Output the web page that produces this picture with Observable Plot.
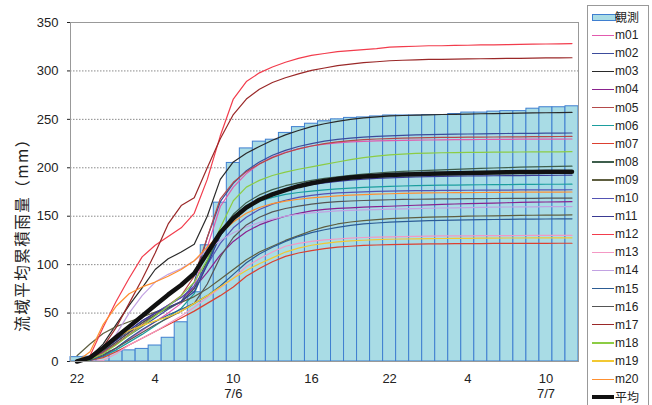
<!DOCTYPE html>
<html><head><meta charset="utf-8">
<script src="https://cdn.jsdelivr.net/npm/d3@7"></script>
<script src="https://cdn.jsdelivr.net/npm/@observablehq/plot@0.6"></script>
<style>
body{margin:0;background:#fff;font-family:"Liberation Sans","Noto Sans CJK JP",Arial,sans-serif;}
#wrap{position:relative;width:652px;height:405px;overflow:hidden;}
#legend{position:absolute;left:587px;top:5px;width:62px;height:430px;border:1px solid #999;background:#fff;box-sizing:border-box;}
.li{position:absolute;left:0;height:16px;line-height:16px;font-size:12px;color:#222;white-space:nowrap;}
.sw{position:absolute;left:4px;width:22px;}
.lt{position:absolute;left:27px;top:0;}
</style></head>
<body><div id="wrap"><div id="chart"></div><div id="legend"></div></div>
<script>
// hour of day for each hourly step (7/5 22:00 -> 7/7 12:00)
const hours = [22,23,0,1,2,3,4,5,6,7,8,9,10,11,12,13,14,15,16,17,18,19,20,21,22,23,0,1,2,3,4,5,6,7,8,9,10,11,12];
const tickIdx = [0,6,12,18,24,30,36];
const dateIdx = [12,36];
const dateText = ["7/6","7/7"];
const yTicks = [0,50,100,150,200,250,300,350];
const gridVals = [50,100,150,200,250,300];
const yLabel = "流域平均累積雨量（mm）";

// observed basin-average cumulative rainfall (mm)
const observed = [4.5,5,9,10.5,11.5,13,16.5,24.5,40.5,71.5,120,164,205,220,227,229,236,242,245.5,248,250,251.5,252,253,254,254,254,254.5,254.5,255.5,257,257,258,258.5,258.5,261,262.5,262.5,263.5];

const m01 = [0,1,6,14,23,32,41,50,60,78,118,160,180,194,204,211,216,219.5,222.5,224.5,225.8,226.7,227.3,227.7,228,228.3,228.5,228.7,228.9,229,229.1,229.2,229.3,229.4,229.5,229.5,229.6,229.6,229.7];
const m02 = [0,2,9,18,27,36,45,54,62,82,128,165,184,197,206,213,218,222,225,227.5,229.3,230.6,231.6,232.4,233,233.5,233.9,234.2,234.5,234.7,234.9,235.1,235.3,235.4,235.5,235.6,235.7,235.8,235.9];
const m03 = [0,5,18,38,58,76,95,106,113,121,150,188,206,215,222,228.5,234,238.5,242.5,245.5,248,250,251.5,252.5,253.5,254,254.3,254.6,255,255.2,255.5,255.8,256,256.2,256.4,256.6,256.8,257,257.2];
const m04 = [0,2,10,20,30,40,50,58,66,76,92,110,124,134,141,146,150,153,155.5,157,158,158.7,159.3,159.8,160.3,160.8,161.3,161.8,162.2,162.6,163,163.3,163.6,163.9,164.2,164.5,164.7,164.9,165];
const m05 = [0,2,9,18,28,38,48,58,68,88,128,168,185,196,204,210.5,215.5,219.5,222.5,225,226.8,228.1,229,229.7,230.2,230.6,230.9,231.1,231.3,231.5,231.6,231.7,231.8,231.9,232,232.1,232.2,232.3,232.4];
const m06 = [0,1,5,12,20,28,37,46,55,70,102,130,148,159,165.5,169.5,172.5,174.5,176,177.2,178.2,179,179.7,180.3,180.8,181.2,181.5,181.8,182,182.2,182.4,182.5,182.6,182.7,182.8,182.9,183,183,183.1];
const m07 = [0,1,4,10,17,24,31,38,45,52,60,68,77,88,96,103,108.5,112,114.5,116.5,118,119,119.8,120.3,120.7,121,121.2,121.4,121.5,121.6,121.7,121.8,121.9,121.9,122,122,122,122.1,122.1];
const m08 = [0,3,11,20,30,40,48,55,62,75,104,134,152,164,172,177.5,181.5,184.5,187,189,190.7,192.2,193.5,194.6,195.5,196.2,196.8,197.3,197.8,198.3,198.8,199.3,199.8,200.2,200.6,201,201.3,201.5,201.7];
const m09 = [6,18,29,36,41,46,51,56,61,67,75,85,95,105,113,119,125,130,135,139,142,144,145.5,146.5,147.5,148,148.5,149,149.3,149.6,150,150.2,150.4,150.6,150.8,151,151.1,151.2,151.4];
const m10 = [0,3,12,22,32,42,50,58,66,78,100,122,138,149,157,162.5,166.5,169.5,171.5,173,174,174.7,175.2,175.6,176,176.2,176.4,176.5,176.6,176.7,176.8,176.9,177,177,177.1,177.1,177.2,177.2,177.3];
const m11 = [0,3,12,22,32,42,50,56,62,72,100,130,148,160,168,173,177,180,182.5,184.5,186,187.2,188.2,189,189.6,190.1,190.5,190.8,191.1,191.3,191.5,191.7,191.8,191.9,192,192.1,192.2,192.3,192.4];
const m12 = [0,6,35,62,86,108,120,129,138,153,188,233,271,289,298,304,309,313,316,318,320,321,322,323,324.5,325,325.5,326,326,326.3,326.5,326.8,327,327.2,327.4,327.6,327.8,328,328.2];
const m13 = [0,0,1,8,17,24,31,39,47,56,66,76,86,98,106,113,119,122,124,125.5,126.5,127.3,128,128.4,128.7,129,129.2,129.4,129.6,129.7,129.8,129.9,130,130,130.1,130.2,130.2,130.3,130.3];
const m14 = [0,3,14,28,50,68,82,90,96,104,115,125,133,139,143.5,147,150,152,153.5,154.5,155.5,156,156.5,156.9,157.3,157.6,157.9,158.2,158.5,158.7,158.9,159.1,159.3,159.5,159.6,159.7,159.8,159.9,160];
const m15 = [0,1,6,14,24,33,41,48,54,60,68,78,90,102,111,118,124,129,133,136,138.5,140.5,142,143,143.8,144.4,145,145.4,145.8,146,146.2,146.4,146.6,146.8,146.9,147,147.1,147.2,147.3];
const m16 = [0,2,7,14,22,30,38,45,52,60,80,108,128,141,149,154.5,158,160.5,162.5,164,165,165.7,166.2,166.6,167,167.3,167.5,167.7,167.9,168,168.1,168.2,168.3,168.4,168.5,168.5,168.6,168.6,168.7];
const m17 = [0,3,15,35,60,85,112,142,161,169,200,230,255,271,281,288,293,297,300.5,303,305.5,307,308.5,309.5,310.5,311,311.5,312,312,312.2,312.4,312.6,312.8,313,313,313.2,313.4,313.5,313.6];
const m18 = [0,2,8,17,27,37,47,57,68,82,105,138,166,180,187,192,195.5,198.5,201,203.5,206,208.5,210.5,212,213.3,214.2,214.8,215.2,215.5,215.7,215.9,216,216.1,216.2,216.3,216.4,216.5,216.5,216.6];
const m19 = [0,3,12,24,32,37,42,46,52,60,68,77,86,94,101,107,113,117,120,122,123.5,124.5,125.2,125.8,126.2,126.5,126.7,126.9,127,127.1,127.2,127.3,127.4,127.5,127.5,127.6,127.6,127.7,127.7];
const m20 = [0,10,38,57,70,77,82,88,95,104,118,132,144,153,159,163,165.5,167.5,169,170,171,171.7,172.3,172.8,173.2,173.5,173.8,174,174.2,174.3,174.4,174.5,174.6,174.7,174.8,174.8,174.9,174.9,175];
const mean = [0,4,14,25,36,47,58,69,79,91,112,133,148,159,167,172.5,177,181,184,186.5,188.5,190,191,191.8,192.5,193,193.4,193.8,194.1,194.4,194.7,195,195.2,195.4,195.6,195.7,195.8,195.9,196];

const memberNames = ["m01","m02","m03","m04","m05","m06","m07","m08","m09","m10","m11","m12","m13","m14","m15","m16","m17","m18","m19","m20"];
const memberValues = [m01,m02,m03,m04,m05,m06,m07,m08,m09,m10,m11,m12,m13,m14,m15,m16,m17,m18,m19,m20];
const memberColors = ["#e25aae","#3c4c9c","#2a2a2a","#8a228e","#b44a4a","#1c9e9e","#dc4030","#3e5e4c","#5e5e40","#5454b4","#3a3a92","#f23c4c","#f498c4","#c2a2e2","#2c5c94","#555555","#9a2828","#8ccc44","#f2c832","#ff9030"];

const obsData = observed.map((v,i) => ({i, v}));
const lineData = memberNames.flatMap((n,k) => memberValues[k].map((v,i) => ({name:n, i, v})));
const meanData = mean.map((v,i) => ({i, v}));
const dateData = dateIdx.map((i,k) => ({i, t:dateText[k]}));

const chart = Plot.plot({
  width: 652, height: 405,
  marginLeft: 70, marginRight: 74, marginTop: 22, marginBottom: 44,
  style: {fontSize: "13px", fontFamily: '"Liberation Sans","Noto Sans CJK JP",Arial,sans-serif', color: "#222", background: "#fff"},
  x: {type: "linear", domain: [-0.5, hours.length - 0.5], ticks: tickIdx, tickFormat: i => String(hours[i]), tickSize: 0, tickPadding: 12, label: null},
  y: {domain: [0, 350], ticks: yTicks, tickSize: 3, tickPadding: 9, label: null},
  color: {type: "ordinal", domain: memberNames, range: memberColors},
  marks: [
    Plot.ruleY(gridVals, {stroke: "#8a8a8a", strokeDasharray: "1.5,1.5", strokeWidth: 1}),
    Plot.rectY(obsData, {x1: d => d.i - 0.5, x2: d => d.i + 0.5, y: "v", fill: "#a9dce5", stroke: "#3f7fd0", strokeWidth: 1}),
    Plot.line(lineData, {x: "i", y: "v", z: "name", stroke: "name", strokeWidth: 1.2}),
    Plot.line(meanData, {x: "i", y: "v", stroke: "#111", strokeWidth: 4.5}),
    Plot.frame({stroke: "#999"}),
    Plot.text(dateData, {x: "i", frameAnchor: "bottom", text: "t", dy: 36, fontSize: 13})
  ]
});
document.getElementById("chart").appendChild(chart);

// y-axis title (rotated), placed like the reference
d3.select(chart).append("text")
  .attr("transform", "translate(21,231) rotate(-90)")
  .attr("text-anchor", "middle")
  .attr("dominant-baseline", "central")
  .attr("font-size", 15.5)
  .attr("letter-spacing", "1.5px")
  .attr("font-family", '"Noto Sans CJK JP",sans-serif')
  .attr("fill", "#222")
  .text(yLabel);

// legend
const legend = document.getElementById("legend");
const items = [{name: "観測", kind: "bar"}].concat(memberNames.map((n,k) => ({name: n, kind: "line", color: memberColors[k]}))).concat([{name: "平均", kind: "mean"}]);
items.forEach((it, k) => {
  const row = document.createElement("div");
  row.className = "li";
  row.style.top = (3 + 18.1 * k) + "px";
  row.style.width = "60px";
  const sw = document.createElement("div");
  sw.className = "sw";
  if (it.kind === "bar") {
    sw.style.top = "5px"; sw.style.height = "5px"; sw.style.background = "#a9dce5"; sw.style.border = "1px solid #3f7fd0";
  } else if (it.kind === "mean") {
    sw.style.top = "6px"; sw.style.height = "4px"; sw.style.background = "#111";
  } else {
    sw.style.top = "7.5px"; sw.style.height = "1.3px"; sw.style.background = it.color;
  }
  const t = document.createElement("span");
  t.className = "lt"; t.textContent = it.name;
  if (it.kind !== "line") t.style.fontFamily = '"Noto Sans CJK JP",sans-serif';
  row.appendChild(sw); row.appendChild(t);
  legend.appendChild(row);
});
</script></body></html>
